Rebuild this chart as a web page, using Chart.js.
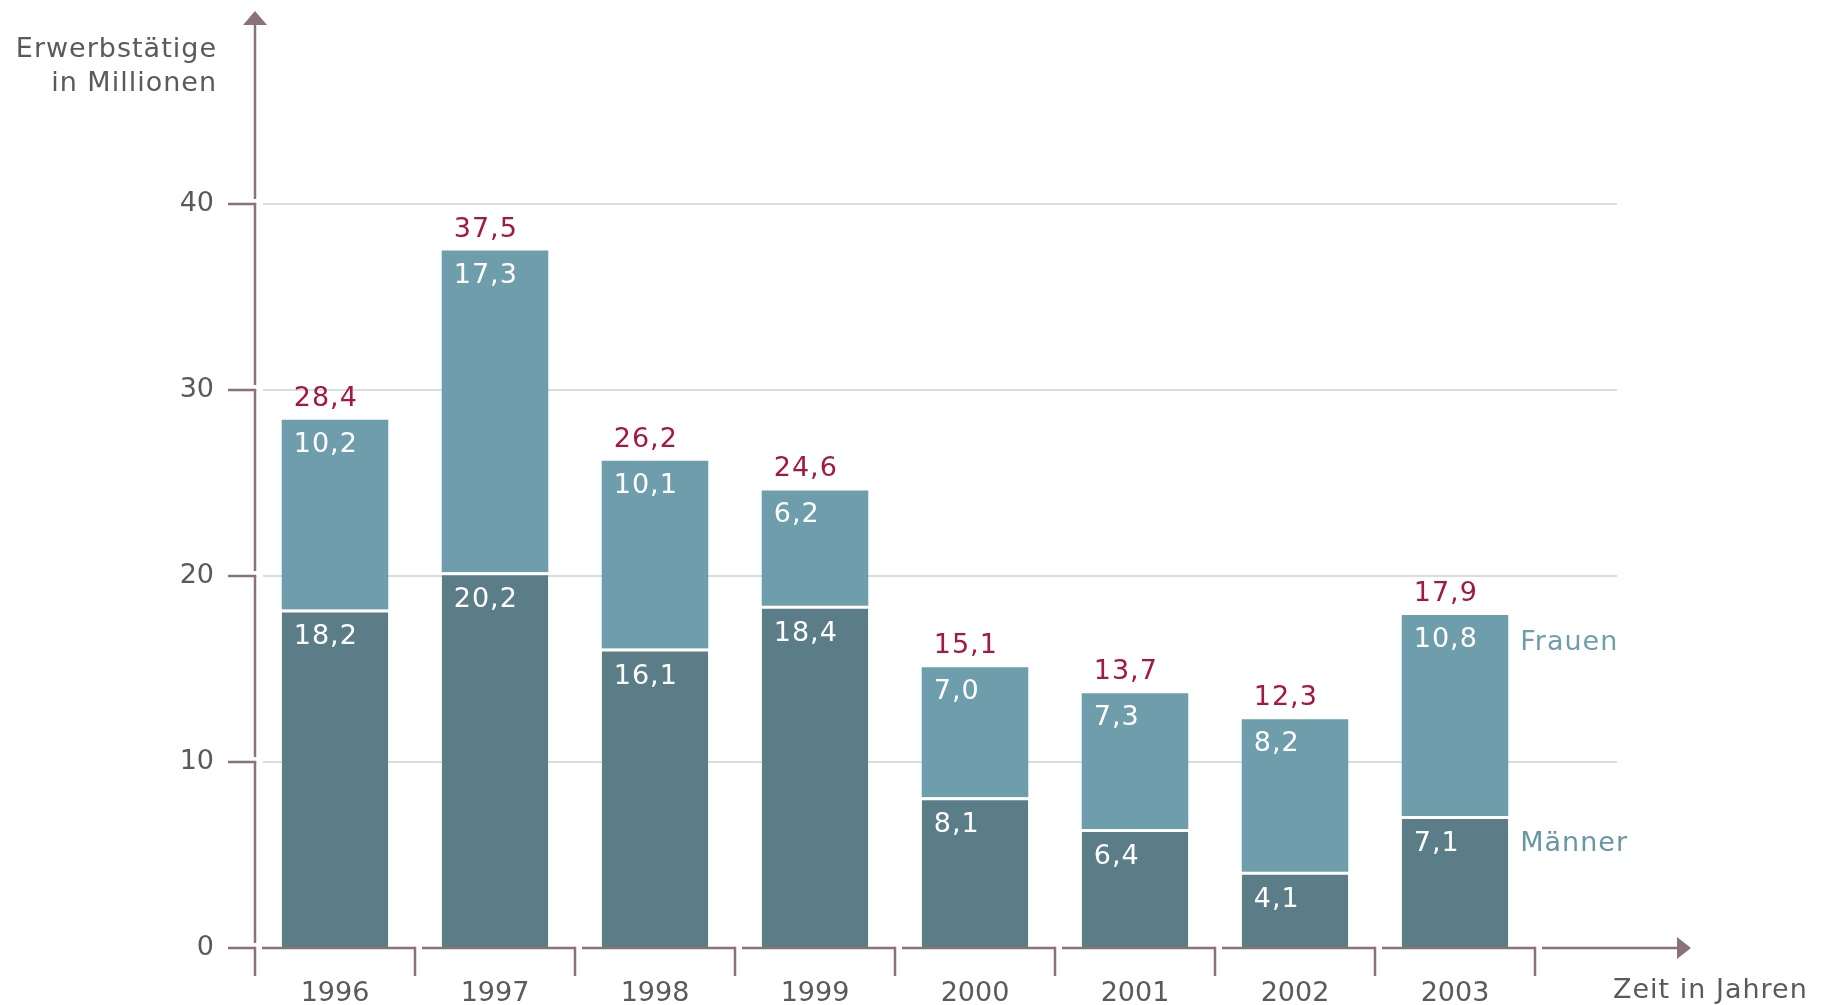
<!DOCTYPE html>
<html lang="de">
<head>
<meta charset="utf-8">
<title>Erwerbstätige</title>
<script src="https://cdn.jsdelivr.net/npm/chart.js@4.4.1/dist/chart.umd.min.js"></script>
<style>
  html, body { margin: 0; padding: 0; background: #fff; }
  #wrap { width: 1827px; height: 1005px; }
</style>
</head>
<body>
<div id="wrap"><canvas id="chart" width="1827" height="1005"></canvas></div>
<script>
const jahre = ["1996", "1997", "1998", "1999", "2000", "2001", "2002", "2003"];
const maenner = [18.2, 20.2, 16.1, 18.4, 8.1, 6.4, 4.1, 7.1];
const frauen = [10.2, 17.3, 10.1, 6.2, 7.0, 7.3, 8.2, 10.8];
const gesamt = [28.4, 37.5, 26.2, 24.6, 15.1, 13.7, 12.3, 17.9];
const yTicks = [0, 10, 20, 30, 40];

const COL = {
  men: "#5a7d88",
  women: "#6e9eab",
  total: "#a3193f",
  axis: "#8a7278",
  grid: "#dddddd",
  text: "#5a5a5a"
};
const FONT = "DejaVu Sans, Verdana, sans-serif";
const SIZE = 27;

function fmt(v) {
  return v.toFixed(1).replace(".", ",");
}

function text(ctx, str, x, y, color, align) {
  ctx.save();
  ctx.font = SIZE + "px " + FONT;
  ctx.letterSpacing = "1px";
  ctx.fillStyle = color;
  ctx.textAlign = align || "left";
  ctx.textBaseline = "alphabetic";
  ctx.fillText(str, x, y);
  ctx.restore();
}

// grid lines behind the bars
const gridPlugin = {
  id: "grid",
  beforeDatasetsDraw(chart) {
    const { ctx, chartArea, scales } = chart;
    ctx.save();
    ctx.strokeStyle = COL.grid;
    ctx.lineWidth = 2;
    yTicks.forEach(v => {
      if (v === 0) return;
      const y = Math.round(scales.y.getPixelForValue(v));
      ctx.beginPath();
      ctx.moveTo(chartArea.left + 8, y);
      ctx.lineTo(chartArea.right + 82, y);
      ctx.stroke();
    });
    ctx.restore();
  }
};

// axes with arrows, tick stubs and year separators
const axisPlugin = {
  id: "axes",
  afterDraw(chart) {
    const { ctx, chartArea, scales } = chart;
    const left = chartArea.left, bottom = chartArea.bottom;
    const drop = 28;
    ctx.save();
    ctx.strokeStyle = COL.axis;
    ctx.fillStyle = COL.axis;
    ctx.lineWidth = 2.5;
    ctx.lineCap = "butt";

    // y axis, broken just above each tick
    let start = 24;
    yTicks.slice().reverse().forEach(v => {
      const y = Math.round(scales.y.getPixelForValue(v));
      ctx.beginPath();
      ctx.moveTo(left, start);
      ctx.lineTo(left, y - 5);
      ctx.stroke();
      ctx.beginPath();
      ctx.moveTo(left - 27, y);
      ctx.lineTo(left, y);
      ctx.lineTo(left, v === 0 ? y + drop : y + 1);
      ctx.stroke();
      start = y;
    });
    // arrow up
    ctx.beginPath();
    ctx.moveTo(left, 11);
    ctx.lineTo(left - 12, 25);
    ctx.lineTo(left + 12, 25);
    ctx.closePath();
    ctx.fill();

    // x axis segments per year
    const w = (chartArea.right - chartArea.left) / jahre.length;
    jahre.forEach((j, i) => {
      const x0 = left + w * i;
      const x1 = x0 + w;
      ctx.beginPath();
      ctx.moveTo(x0 + 7, bottom);
      ctx.lineTo(x1, bottom);
      ctx.lineTo(x1, bottom + drop);
      ctx.stroke();
    });
    const xEnd = chartArea.right + 143;
    ctx.beginPath();
    ctx.moveTo(chartArea.right + 7, bottom);
    ctx.lineTo(xEnd, bottom);
    ctx.stroke();
    ctx.beginPath();
    ctx.moveTo(xEnd + 13, bottom);
    ctx.lineTo(xEnd - 1, bottom - 11);
    ctx.lineTo(xEnd - 1, bottom + 11);
    ctx.closePath();
    ctx.fill();
    ctx.restore();

    // axis titles
    text(ctx, "Erwerbstätige", 217, 57, COL.text, "right");
    text(ctx, "in Millionen", 217, 91, COL.text, "right");
    text(ctx, "Zeit in Jahren", chartArea.right + 78, 998, COL.text, "left");
  }
};

// value labels inside and above the bars
const labelPlugin = {
  id: "labels",
  afterDatasetsDraw(chart) {
    const { ctx } = chart;
    const mMeta = chart.getDatasetMeta(0);
    const fMeta = chart.getDatasetMeta(1);
    mMeta.data.forEach((bar, i) => {
      const fBar = fMeta.data[i];
      const x = bar.x - bar.width / 2 + 12;
      text(ctx, fmt(maenner[i]), x, bar.y + 35, "#ffffff");
      text(ctx, fmt(frauen[i]), x, fBar.y + 32, "#ffffff");
      text(ctx, fmt(gesamt[i]), x, fBar.y - 14, COL.total);
    });
    const last = jahre.length - 1;
    const mb = mMeta.data[last], fb = fMeta.data[last];
    const lx = mb.x + mb.width / 2 + 12;
    text(ctx, "Frauen", lx, fb.y + 35, COL.women);
    text(ctx, "Männer", lx, mb.y + 35, "#6797a4");
  }
};

new Chart(document.getElementById("chart"), {
  type: "bar",
  data: {
    labels: jahre,
    datasets: [
      {
        label: "Männer",
        data: maenner,
        backgroundColor: COL.men,
        borderColor: "#ffffff",
        borderWidth: { top: 3, left: 0, right: 0, bottom: 0 },
        borderSkipped: false,
        categoryPercentage: 1,
        barPercentage: 0.666
      },
      {
        label: "Frauen",
        data: frauen,
        backgroundColor: COL.women,
        borderWidth: 0,
        categoryPercentage: 1,
        barPercentage: 0.666
      }
    ]
  },
  options: {
    responsive: false,
    animation: false,
    devicePixelRatio: 1,
    layout: { padding: { top: 18, right: 292, left: 0, bottom: 0 } },
    plugins: {
      legend: { display: false },
      tooltip: { enabled: false }
    },
    scales: {
      x: {
        stacked: true,
        grid: { display: false, drawTicks: false },
        border: { display: false },
        ticks: {
          color: COL.text,
          font: { family: FONT, size: SIZE },
          padding: 30,
          maxRotation: 0
        },
        afterFit(s) {
          s.height = 57;
          s.paddingLeft = 0;
          s.paddingRight = 0;
        }
      },
      y: {
        stacked: true,
        min: 0,
        max: 50,
        grid: { display: false, drawTicks: false },
        border: { display: false },
        afterBuildTicks(s) {
          s.ticks = yTicks.map(v => ({ value: v }));
        },
        ticks: {
          color: COL.text,
          font: { family: FONT, size: SIZE },
          padding: 41
        },
        afterFit(s) {
          s.width = 255;
          s.paddingTop = 0;
          s.paddingBottom = 0;
        }
      }
    }
  },
  plugins: [gridPlugin, labelPlugin, axisPlugin]
});
</script>
</body>
</html>
